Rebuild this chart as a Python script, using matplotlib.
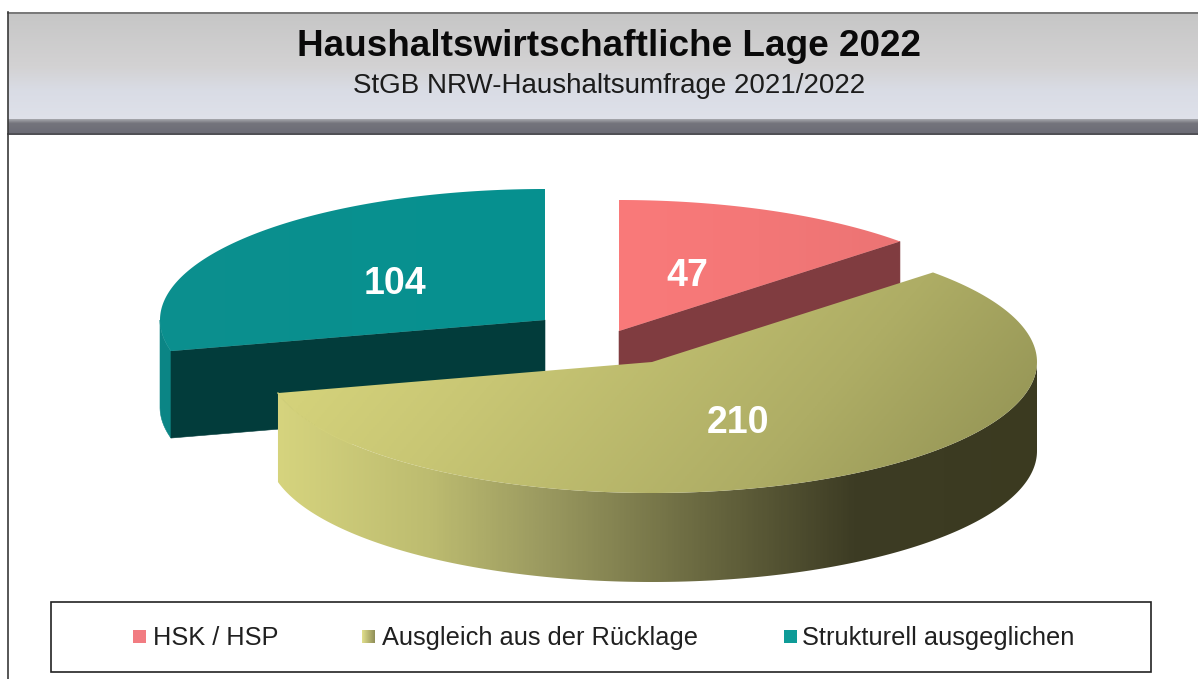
import numpy as np
import matplotlib
matplotlib.use("Agg")
import matplotlib.pyplot as plt
from matplotlib.colors import LinearSegmentedColormap as LSC
from matplotlib.patches import Polygon, Rectangle

# Data
categories = ["HSK / HSP", "Ausgleich aus der Rücklage", "Strukturell ausgeglichen"]
values = [47, 210, 104]
title = "Haushaltswirtschaftliche Lage 2022"
subtitle = "StGB NRW-Haushaltsumfrage 2021/2022"

# Style and layout
plt.rcParams["font.family"] = ["Liberation Sans", "DejaVu Sans"]
W, H = 1198, 679
RX, RY, DEPTH = 385, 131, 89
apexes = [(619, 331), (652, 362), (545, 320)]
label_pos = [(687, 276), (738, 423), (395, 284)]
legend_sq = [(133, 630), (362, 630), (784, 630)]
legend_tx = [(153, 638), (382, 638), (802, 638)]

fig = plt.figure(figsize=(W / 100, H / 100), dpi=100, facecolor="white")
ax = fig.add_axes([0, 0, 1, 1])
ax.set_xlim(0, W)
ax.set_ylim(H, 0)
ax.axis("off")


def arc(center, a0, a1, dy=0, n=200):
    t = np.radians(np.linspace(a0, a1, n))
    return np.column_stack([center[0] + RX * np.sin(t),
                            center[1] - RY * np.cos(t) + dy])


def gradient(poly, colors, box, horizontal=True, z=2, tilt=0.0):
    u, v = np.meshgrid(np.linspace(0, 1, 400), np.linspace(0, 1, 400))
    g = (u + tilt * v) / (1 + tilt) if horizontal else v
    cmap = LSC.from_list("g", colors)
    x0, x1, y0, y1 = box
    im = ax.imshow(g, cmap=cmap, extent=(x0, x1, y1, y0), aspect="auto",
                   zorder=z, interpolation="bilinear", vmin=0, vmax=1)
    patch = Polygon(poly, closed=True, transform=ax.transData, fc="none", ec="none")
    ax.add_patch(patch)
    im.set_clip_path(patch)


def fill(poly, color, z=2):
    ax.add_patch(Polygon(poly, closed=True, fc=color, ec=color, lw=0.4, zorder=z))


# Header
gradient([(8, 12), (W, 12), (W, 121), (8, 121)],
         [(0, "#c6c6c6"), (0.5, "#d3d2d3"), (0.72, "#d9dce5"), (1, "#dfe1ea")],
         (8, W, 12, 121), horizontal=False, z=1)
gradient([(8, 119), (W, 119), (W, 133), (8, 133)],
         [(0, "#a8a9ae"), (0.3, "#74747c"), (1, "#6c6c76")],
         (8, W, 119, 133), horizontal=False, z=1)
ax.plot([8, W], [12.5, 12.5], color="#6b6b6b", lw=1.2, zorder=3)
ax.plot([8, W], [133.5, 133.5], color="#2e2e33", lw=1.2, zorder=3)
ax.plot([8, 8], [12, H], color="#3a3a3a", lw=1.2, zorder=3)
ax.text(609, 46, title, ha="center", va="center", fontsize=26.6, fontweight="bold", color="#0a0a0a", zorder=4)
ax.text(609, 86, subtitle, ha="center", va="center", fontsize=20, color="#1c1c1c", zorder=4)

# Pie angles, clockwise from twelve o'clock
edges = np.concatenate([[0], np.cumsum(values)]) / sum(values) * 360
(a_r0, a_r1), (a_y0, a_y1), (a_t0, a_t1) = zip(edges[:-1], edges[1:])
c_r, c_y, c_t = apexes

# Teal slice
outer = arc(c_t, a_t0, 270, n=40)
fill(np.vstack([outer, arc(c_t, 270, a_t0, DEPTH - 2, n=40)]), "#0b8585")
p = arc(c_t, a_t0, a_t0, n=1)[0]
fill([c_t, p, (p[0], p[1] + DEPTH - 2), (c_t[0], c_t[1] + DEPTH - 2)], "#023c3b", z=2.1)
gradient(np.vstack([[c_t], arc(c_t, a_t0, a_t1)]),
         ["#0c8f8e", "#069190"], (160, 545, 188, 351), z=2.2)

# Red slice
p = arc(c_r, a_r1, a_r1, n=1)[0]
fill([c_r, p, (p[0], p[1] + DEPTH - 2), (c_r[0], c_r[1] + DEPTH - 2)], "#803c40", z=2.1)
gradient(np.vstack([[c_r], arc(c_r, a_r0, a_r1)]),
         ["#fa7a7a", "#ec7474"], (619, 900, 199, 331), z=2.2)

# Yellow slice
wall = np.vstack([arc(c_y, 90, a_y1), arc(c_y, a_y1, 90, DEPTH)])
gradient(wall, [(0, "#d6d47e"), (0.2, "#bdbc70"), (0.35, "#9b9a60"),
                (0.55, "#6c6b42"), (0.76, "#3d3c24"), (1, "#3b3a20")],
         (275, 1038, 360, 590), z=3)
gradient(np.vstack([[c_y], arc(c_y, a_y0, a_y1)]),
         [(0, "#dedc80"), (0.35, "#c8c674"), (0.7, "#aead65"), (1, "#8f8f52")],
         (275, 1038, 230, 495), z=3.1, tilt=0.3)
seam = arc(c_y, a_y1 - 25, a_y1, n=40)
ax.plot(seam[:, 0], seam[:, 1], color="#d3d17b", lw=1.0, zorder=3.05)

# Value labels
for (x, y), v in zip(label_pos, values):
    ax.text(x, y, str(v), ha="center", va="center", color="white",
            fontsize=27, fontweight="bold", zorder=5)

# Legend
ax.add_patch(Rectangle((50.5, 601.5), 1100, 70, fc="white", ec="#222222", lw=1.2, zorder=2))
sq_colors = [["#f27c82", "#f27c82"], ["#e2e08c", "#8f8e58"], ["#0f9c98", "#0f9c98"]]
for (x, y), cols in zip(legend_sq, sq_colors):
    s = 13
    gradient([(x, y), (x + s, y), (x + s, y + s), (x, y + s)], cols,
             (x, x + s, y, y + s), z=3)
for (x, y), name in zip(legend_tx, categories):
    ax.text(x, y, name, ha="left", va="center", fontsize=18.3, color="#202020", zorder=4)

ax.set_xlim(0, W)
ax.set_ylim(H, 0)
fig.savefig("out.png", dpi=100, facecolor="white")
